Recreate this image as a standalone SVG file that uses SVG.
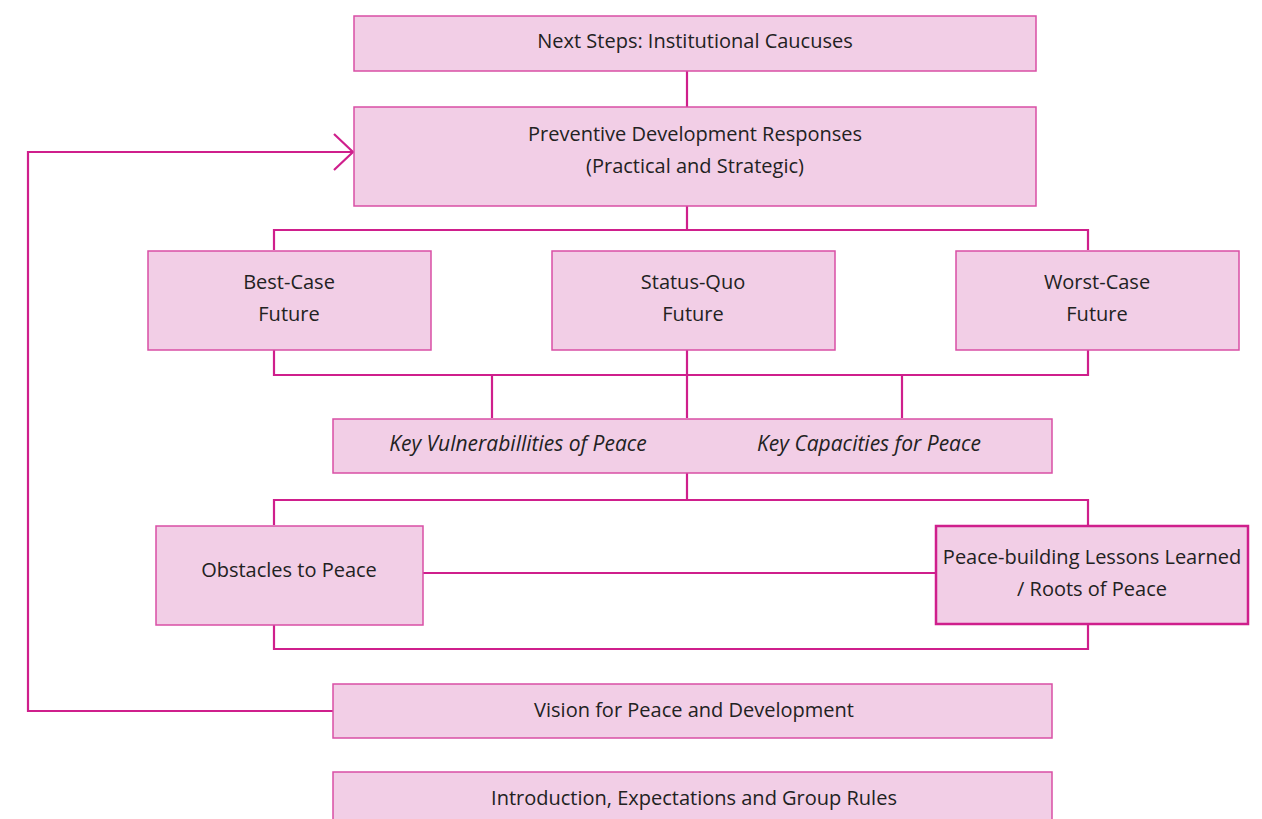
<svg xmlns="http://www.w3.org/2000/svg" width="1262" height="819" viewBox="0 0 1262 819">
<style>
.box{fill:#f2cee6;stroke:#d94fa5;stroke-width:1.5}
.boxb{fill:#f2cee6;stroke:#cf1f8c;stroke-width:2.5}
.t{font-family:"Open Sans","Noto Sans",sans-serif;font-size:20px;fill:#222;text-anchor:middle}
.i{font-style:italic;font-size:21px}
.c{fill:none;stroke:#cf1f8c;stroke-width:2.2}
</style>
<defs>
<marker id="arr" markerWidth="24" markerHeight="40" refX="21" refY="20" orient="auto" markerUnits="userSpaceOnUse">
<path d="M2,2 L21,20 L2,38" fill="none" stroke="#cf1f8c" stroke-width="2.2"/>
</marker>
</defs>
<g id="connectors">
<path class="c" d="M687,71 V107"/>
<path class="c" d="M687,206 V230 M274,250 V230 H1088 V250"/>
<path class="c" d="M274,350 V375 H1088 V350 M687,350 V418 M492,375 V418 M902,375 V418"/>
<path class="c" d="M687,473 V500 M274,525 V500 H1088 V526"/>
<path class="c" d="M423,573 H936"/>
<path class="c" d="M274,625 V649 H1088 V624"/>
<path class="c" d="M333,711 H28 V152 H353" marker-end="url(#arr)"/>
</g>
<g id="next-steps">
<rect class="box" x="354" y="16" width="682" height="55"/>
<text class="t" x="695" y="48">Next Steps: Institutional Caucuses</text>
</g>
<g id="preventive">
<rect class="box" x="354" y="107" width="682" height="99"/>
<text class="t" x="695" y="141">Preventive Development Responses</text>
<text class="t" x="695" y="173">(Practical and Strategic)</text>
</g>
<g id="best-case">
<rect class="box" x="148" y="251" width="283" height="99"/>
<text class="t" x="289" y="289">Best-Case</text>
<text class="t" x="289" y="321">Future</text>
</g>
<g id="status-quo">
<rect class="box" x="552" y="251" width="283" height="99"/>
<text class="t" x="693" y="289">Status-Quo</text>
<text class="t" x="693" y="321">Future</text>
</g>
<g id="worst-case">
<rect class="box" x="956" y="251" width="283" height="99"/>
<text class="t" x="1097" y="289">Worst-Case</text>
<text class="t" x="1097" y="321">Future</text>
</g>
<g id="key">
<rect class="box" x="333" y="419" width="719" height="54"/>
<text class="t i" x="518" y="451">Key Vulnerabillities of Peace</text>
<text class="t i" x="869" y="451">Key Capacities for Peace</text>
</g>
<g id="obstacles">
<rect class="box" x="156" y="526" width="267" height="99"/>
<text class="t" x="289" y="577">Obstacles to Peace</text>
</g>
<g id="lessons">
<rect class="boxb" x="936" y="526" width="312" height="98"/>
<text class="t" x="1092" y="564">Peace-building Lessons Learned</text>
<text class="t" x="1092" y="596">/ Roots of Peace</text>
</g>
<g id="vision">
<rect class="box" x="333" y="684" width="719" height="54"/>
<text class="t" x="694" y="717">Vision for Peace and Development</text>
</g>
<g id="intro">
<rect class="box" x="333" y="772" width="719" height="60"/>
<text class="t" x="694" y="805">Introduction, Expectations and Group Rules</text>
</g>
</svg>
